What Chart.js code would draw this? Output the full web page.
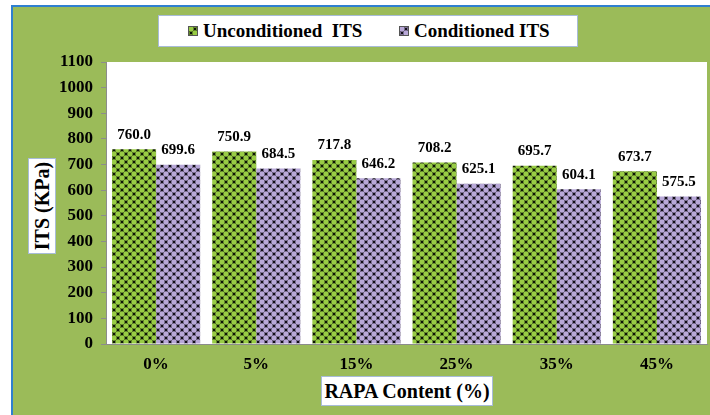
<!DOCTYPE html>
<html>
<head>
<meta charset="utf-8">
<script src="https://cdn.jsdelivr.net/npm/chart.js@4.4.1/dist/chart.umd.min.js"></script>
<style>
  body { margin: 0; background: #fff; font-family: 'Liberation Serif', 'Times New Roman', serif; }
  #wrap { position: absolute; left: 0; top: 0; width: 710px; height: 415px; overflow: hidden; }
  #bg { position: absolute; left: 11px; top: 5px; width: 710px; height: 420px; background: #9bbb59;
        border-left: 2px solid #2f7fd0; border-top: 2px solid #2f7fd0; }
  #myChart { position: absolute; left: 0; top: 0; }
  .box { position: absolute; background: #fff; border: 1px solid #a8bcd8; font-weight: bold; color: #000; white-space: pre; }
  #legend { left: 158px; top: 15px; width: 418px; height: 30px; font-size: 19px; line-height: 30px; }
  #legend span.mk { display: inline-block; width: 8px; height: 8px; border: 1px solid #555; vertical-align: 1px; margin-right: 5px; }
  #xtitle { left: 321px; top: 376px; width: 170px; height: 28px; font-size: 20px; line-height: 28px; text-align: center; }
  #ytitle { left: 28px; top: 158px; width: 26px; height: 94px; }
  #ytitle div { position: absolute; left: 50%; top: 50%; transform: translate(-50%, -50%) rotate(-90deg); font-size: 20px; line-height: 24px; }
</style>
</head>
<body>
<div id="wrap">
  <div id="bg"></div>
  <canvas id="myChart" width="710" height="415"></canvas>
  <div id="legend" class="box"><span style="position:absolute;left:29px;top:0"><span class="mk" id="mk0"></span>Unconditioned  ITS</span><span style="position:absolute;left:240px;top:0"><span class="mk" id="mk1"></span>Conditioned ITS</span></div>
  <div id="ytitle" class="box"><div>ITS (KPa)</div></div>
  <div id="xtitle" class="box">RAPA Content (%)</div>
</div>
<script>
const categories = ['0%', '5%', '15%', '25%', '35%', '45%'];
const unconditioned = [760.0, 750.9, 717.8, 708.2, 695.7, 673.7];
const conditioned = [699.6, 684.5, 646.2, 625.1, 604.1, 575.5];
const seriesNames = ['Unconditioned  ITS', 'Conditioned ITS'];

const FONT = "'Liberation Serif', 'Times New Roman', serif";

// dotted "checker" tile like the office chart pattern
function makeTile(color, dark) {
    const c = document.createElement('canvas');
    c.width = 8;
    c.height = 8;
    const g = c.getContext('2d');
    g.fillStyle = dark;
    g.fillRect(0, 0, 8, 8);
    g.fillStyle = color;
    for (let i = -1; i <= 1; i++) {
        for (let j = -1; j <= 1; j++) {
            g.beginPath();
            g.arc(2 + 8 * i, 2 + 8 * j, 2.7, 0, Math.PI * 2);
            g.fill();
            g.beginPath();
            g.arc(6 + 8 * i, 6 + 8 * j, 2.7, 0, Math.PI * 2);
            g.fill();
        }
    }
    return c;
}

const greenTile = makeTile('#98cc44', '#0c1406');
const purpleTile = makeTile('#b8a8d8', '#120e18');
const tmp = document.createElement('canvas').getContext('2d');
const greenFill = tmp.createPattern(greenTile, 'repeat');
const purpleFill = tmp.createPattern(purpleTile, 'repeat');

document.getElementById('mk0').style.backgroundImage = 'url(' + greenTile.toDataURL() + ')';
document.getElementById('mk1').style.backgroundImage = 'url(' + purpleTile.toDataURL() + ')';

const plotBg = {
    id: 'plotBg',
    beforeDraw(chart) {
        const a = chart.chartArea;
        const ctx = chart.ctx;
        ctx.save();
        ctx.fillStyle = '#fff';
        ctx.fillRect(a.left, a.top, a.right - a.left, a.bottom - a.top);
        ctx.restore();
    }
};

const valueLabels = {
    id: 'valueLabels',
    afterDatasetsDraw(chart) {
        const ctx = chart.ctx;
        ctx.save();
        ctx.font = 'bold 15px ' + FONT;
        ctx.fillStyle = '#000';
        ctx.textAlign = 'center';
        ctx.textBaseline = 'bottom';
        chart.data.datasets.forEach((ds, i) => {
            chart.getDatasetMeta(i).data.forEach((bar, k) => {
                ctx.fillText(ds.data[k].toFixed(1), bar.x, bar.y - 7);
            });
        });
        ctx.restore();
    }
};

function drawChart() {
    const ctx = document.getElementById('myChart').getContext('2d');
    new Chart(ctx, {
        type: 'bar',
        data: {
            labels: categories,
            datasets: [{
                label: seriesNames[0],
                data: unconditioned,
                backgroundColor: greenFill,
                borderWidth: 0
            }, {
                label: seriesNames[1],
                data: conditioned,
                backgroundColor: purpleFill,
                borderWidth: 0
            }]
        },
        options: {
            responsive: false,
            animation: false,
            layout: {
                padding: { top: 62, right: 3, left: 0, bottom: 0 }
            },
            datasets: {
                bar: { categoryPercentage: 0.88, barPercentage: 1.0 }
            },
            scales: {
                y: {
                    min: 0,
                    max: 1100,
                    afterFit(s) { s.width = 106; },
                    ticks: {
                        stepSize: 100,
                        padding: 8,
                        color: '#000',
                        font: { family: FONT, size: 17, weight: 'bold' },
                        callback: v => String(v)
                    },
                    grid: {
                        drawOnChartArea: false,
                        tickLength: 5,
                        color: '#8c8c8c'
                    },
                    border: { color: '#8c8c8c' }
                },
                x: {
                    afterFit(s) { s.height = 71; },
                    ticks: {
                        padding: 2,
                        color: '#000',
                        font: { family: FONT, size: 17, weight: 'bold' }
                    },
                    grid: { display: false },
                    border: { color: '#8c8c8c' }
                }
            },
            plugins: {
                legend: { display: false },
                tooltip: { enabled: false }
            }
        },
        plugins: [plotBg, valueLabels]
    });
}

drawChart();
</script>
</body>
</html>
